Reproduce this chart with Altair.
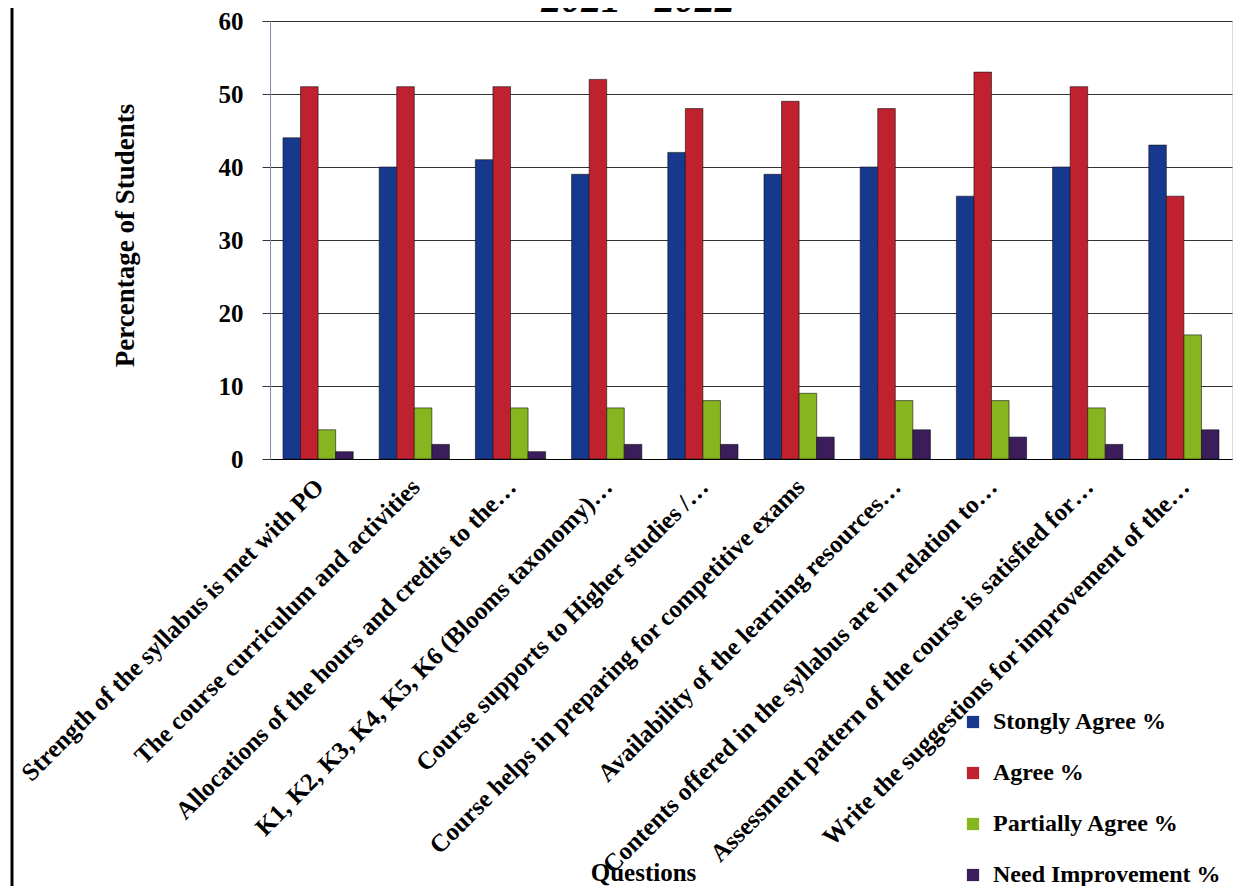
import altair as alt
import pandas as pd

title_text = ["2021 - 2022"]
questions = [
    "Strength of the syllabus is met with PO",
    "The course curriculum and activities",
    "Allocations of the hours and credits to the…",
    "K1, K2, K3, K4, K5, K6 (Blooms taxonomy)…",
    "Course supports to Higher studies /…",
    "Course helps in preparing for competitive exams",
    "Availability of the learning resources…",
    "Contents offered in the syllabus are in relation to…",
    "Assessment pattern of the course is satisfied for…",
    "Write the suggestions for improvement of the…",
]
series = ["Stongly Agree %", "Agree %", "Partially Agree %", "Need Improvement %"]
strongly_agree = [44, 40, 41, 39, 42, 39, 40, 36, 40, 43]
agree = [51, 51, 51, 52, 48, 49, 48, 53, 51, 36]
partially_agree = [4, 7, 7, 7, 8, 9, 8, 8, 7, 17]
need_improvement = [1, 2, 1, 2, 2, 3, 4, 3, 2, 4]
colors = ["#16398E", "#C0212F", "#86B51F", "#3A1D5A"]
y_ticks = [0, 10, 20, 30, 40, 50, 60]

rows = []
for i, q in enumerate(questions):
    for s, vals in zip(series, [strongly_agree, agree, partially_agree, need_improvement]):
        rows.append({"Question": q, "Series": s, "Value": vals[i]})
df = pd.DataFrame(rows)

serif = "Liberation Serif"

bars = alt.Chart(df).mark_bar(stroke="#111111", strokeWidth=0.6).encode(
    x=alt.X(
        "Question:N",
        sort=questions,
        title="Questions",
        scale=alt.Scale(paddingInner=0.27, paddingOuter=0.135),
        axis=alt.Axis(
            labelAngle=-45,
            labelFont=serif,
            labelFontSize=25,
            labelFontWeight="bold",
            labelColor="black",
            labelLimit=0,
            labelPadding=15,
            labelOffset=-7,
            ticks=False,
            domainColor="black",
            domainWidth=1.2,
            titleFont=serif,
            titleFontSize=25,
            titleFontWeight="bold",
            titleColor="black",
            titleX=373,
            titleY=421,
            titleBaseline="alphabetic",
        ),
    ),
    xOffset=alt.XOffset("Series:N", sort=series,
                        scale=alt.Scale(paddingInner=0, paddingOuter=0)),
    y=alt.Y(
        "Value:Q",
        title="Percentage of Students",
        scale=alt.Scale(domain=[0, 60]),
        axis=alt.Axis(
            values=y_ticks,
            grid=True,
            gridColor="#333333",
            gridWidth=1,
            labelFont=serif,
            labelFontSize=25,
            labelFontWeight="bold",
            labelColor="black",
            labelPadding=19,
            tickSize=8,
            tickColor="#333333",
            domainColor="#8a86a8",
            titleFont=serif,
            titleFontSize=27,
            titleFontWeight="bold",
            titleColor="black",
            titleX=-145,
            titleY=214,
            titleBaseline="middle",
        ),
    ),
    color=alt.Color(
        "Series:N",
        sort=series,
        scale=alt.Scale(domain=series, range=colors),
        legend=alt.Legend(
            title=None,
            orient="none",
            legendX=691,
            legendY=689,
            symbolType="square",
            symbolSize=150,
            symbolStrokeWidth=0,
            labelFont=serif,
            labelFontSize=24,
            labelFontWeight="bold",
            labelColor="black",
            labelOffset=8,
            labelLimit=0,
            rowPadding=27,
        ),
    ),
)

border = alt.Chart(pd.DataFrame({"a": [0]})).mark_rule(color="black", strokeWidth=3).encode(
    x=alt.value(-258), y=alt.value(-13), y2=alt.value(870)
)

title = alt.Chart(pd.DataFrame({"t": title_text})).mark_text(
    font=serif, fontSize=40, fontStyle="italic", fontWeight="bold",
    color="black", align="center", baseline="alphabetic",
).encode(text="t:N", x=alt.value(368), y=alt.value(-9))

chart = alt.layer(bars, border, title).properties(
    width=962,
    height=438,
    autosize=alt.AutoSizeParams(type="none"),
    padding={"left": 262, "top": 13, "right": 10, "bottom": 427},
).configure_view(stroke=None).configure(background="white")

chart.save("out.html", embed_options={"renderer": "svg", "actions": False})
